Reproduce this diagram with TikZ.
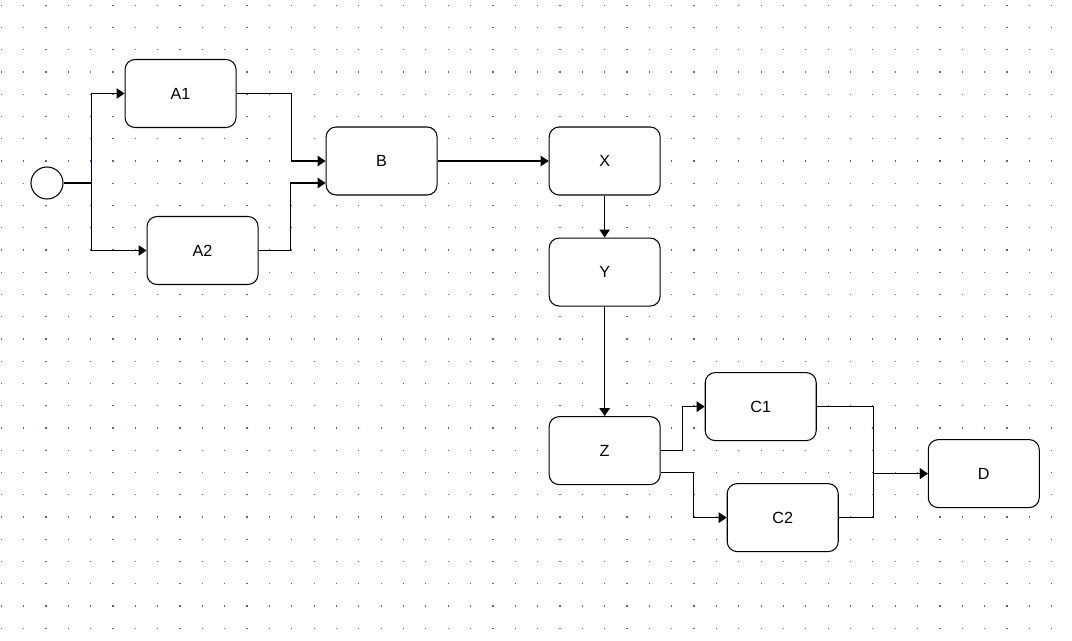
\documentclass[tikz,border=0pt]{standalone}
\usepackage{fontspec}
\setmainfont{Liberation Sans}
\usepackage{xcolor}
\usepackage{tikz}
\usetikzlibrary{positioning,arrows.meta}

\definecolor{griddot}{RGB}{95,95,150}

\begin{document}
\begin{tikzpicture}[
  task/.style={draw, rectangle, rounded corners=0.2cm, minimum width=2.22cm, minimum height=1.36cm, fill=white, line width=0.6pt, font=\fontsize{9.2}{11}\selectfont},
  flow/.style={-{Triangle[length=0.16cm, width=0.21cm]}, line width=0.6pt}
]
% page and dotted grid
\fill[white] (0,0) rectangle (21.44,-12.82);
\useasboundingbox (0,0) rectangle (21.44,-12.82);
\foreach \i in {0,...,47}
  \foreach \j in {0,...,28}
    \fill[griddot] (0.012+0.447*\i, -0.092-0.445*\j) rectangle ++(0.024,-0.024);

\node[draw, circle, minimum size=0.64cm, inner sep=0pt, fill=white, line width=0.6pt] (start) at (0.94,-3.66) {};
\node[task, right=1.22cm of start, yshift=1.79cm] (a1) {A1};
\node[task, right=1.66cm of start, yshift=-1.35cm] (a2) {A2};
\node[task, right=1.78cm of a1, yshift=-1.35cm] (b) {B};
\node[task, right=2.22cm of b] (x) {X};
\node[task, below=0.84cm of x] (y) {Y};
\node[task, below=2.19cm of y] (z) {Z};
\node[task, right=0.88cm of z, yshift=0.88cm] (c1) {C1};
\node[task, right=1.32cm of z, yshift=-1.34cm] (c2) {C2};
\node[task, right=2.22cm of c1, yshift=-1.34cm] (d) {D};

% split after start
\draw[flow] (start.east) -- ++(0.56,0) |- (a1.west);
\draw[flow] (start.east) -- ++(0.56,0) |- (a2.west);
% join into B
\draw[flow] (a1.east) -- ++(1.1,0) |- (b.west);
\draw[flow] (a2.east) -- ++(0.64,0) |- ([yshift=-0.44cm]b.west);
\draw[flow] (b.east) -- (x.west);
\draw[flow] (x.south) -- (y.north);
\draw[flow] (y.south) -- (z.north);
% split after Z
\draw[flow] (z.east) -- ++(0.44,0) |- (c1.west);
\draw[flow] ([yshift=-0.44cm]z.east) -- ++(0.66,0) |- (c2.west);
% join into D
\draw[flow] (c1.east) -- ++(1.14,0) |- (d.west);
\draw[flow] (c2.east) -- ++(0.7,0) |- (d.west);
\end{tikzpicture}
\end{document}
